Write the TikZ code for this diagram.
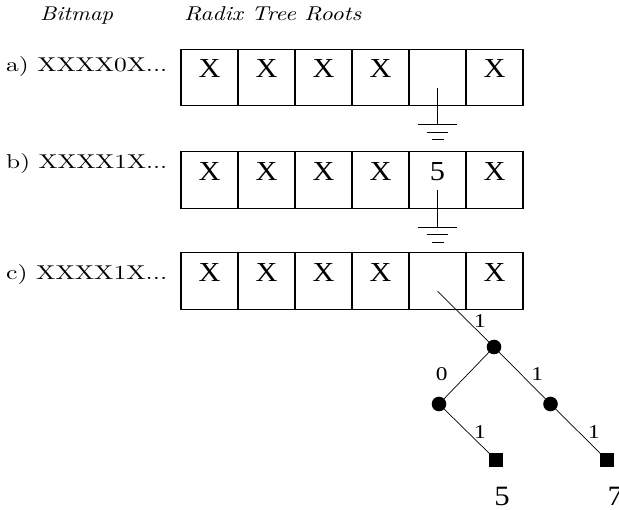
\documentclass[tikz,border=0pt]{standalone}
\usepackage{fontspec}
\usepackage{graphicx}
\newfontfamily\tms{Liberation Serif}
\tikzset{
  cell/.style={draw=black, line width=1.2pt, minimum width=57pt, minimum height=56.5pt, inner sep=0pt, outer sep=0pt},
  boxtxt/.style={anchor=base, inner sep=0pt, font=\tms\fontsize{27.5}{28}\selectfont},
  hdr/.style={anchor=base west, inner sep=0pt, font=\itshape},
  rowlbl/.style={anchor=base west, inner sep=0pt},
  gnd/.style={line width=0.8pt},
  tnode/.style={circle, fill=black, minimum size=14.6pt, inner sep=0pt, outer sep=0pt},
  leaf/.style={rectangle, fill=black, minimum size=13.7pt, inner sep=0pt, outer sep=0pt},
  tedge/.style={line width=0.7pt},
  elbl/.style={inner sep=0pt, font=\tms\fontsize{19.5}{20}\selectfont},
  vlbl/.style={anchor=base, inner sep=0pt, font=\tms\fontsize{28}{29}\selectfont},
}
\begin{document}
\begin{tikzpicture}[x=1pt,y=-1pt]
\useasboundingbox (0,0) rectangle (619,510);
% headers
\node[hdr] (h1) at (40,20.3) {\resizebox{73pt}{13.6pt}{Bitmap}};
\node[hdr] (h2) at (184,20.3) {\resizebox{177pt}{13.9pt}{Radix Tree Roots}};
% row labels
\node[rowlbl] (la) at (6,71.7) {\resizebox{161pt}{15pt}{a)~XXXX0X...}};
\node[rowlbl] (lb) at (6,168.3) {\resizebox{161pt}{15pt}{b)~XXXX1X...}};
\node[rowlbl] (lc) at (6,279.3) {\resizebox{161pt}{15pt}{c)~XXXX1X...}};
% rows of cells
\foreach \r/\y in {a/77.5,b/180,c/281}{
  \foreach \i in {1,...,6}{
    \node[cell] (\r\i) at ({152.5+57*\i},\y) {};
  }
}
\foreach \i/\t in {1/X,2/X,3/X,4/X,6/X}{
  \node[boxtxt] at ([yshift=-28.5pt]a\i.north) {\scalebox{1.1}[1]{\t}};
  \node[boxtxt] at ([yshift=-28.5pt]b\i.north) {\scalebox{1.1}[1]{\t}};
  \node[boxtxt] at ([yshift=-28.5pt]c\i.north) {\scalebox{1.1}[1]{\t}};
}
\node[boxtxt] (b5t) at ([yshift=-28.5pt]b5.north) {\scalebox{1.1}[1]{5}};
% grounds
\foreach \r in {a,b}{
  \coordinate (\r g0) at ([yshift=18pt]\r5.south);
  \coordinate (\r g1) at ([yshift=-19pt]\r5.south);
  \draw[gnd] (\r g0) -- (\r g1);
  \draw[gnd] ([xshift=-19.5pt]\r g1) -- ([xshift=19.5pt]\r g1);
  \draw[gnd] ([xshift=-10.5pt,yshift=-7.5pt]\r g1) -- ([xshift=10.5pt,yshift=-7.5pt]\r g1);
  \draw[gnd] ([xshift=-6pt,yshift=-15pt]\r g1) -- ([xshift=6pt,yshift=-15pt]\r g1);
}
% tree
\coordinate (cs) at ([yshift=18pt]c5.south);
\node[tnode] (t0) at (494,347) {};
\node[tnode] (tl) at (439,404) {};
\node[tnode] (tr) at (550.5,404) {};
\node[leaf] (fl) at (496,460) {};
\node[leaf] (fr) at (607,460) {};
\draw[tedge] (cs) -- (t0);
\draw[tedge] (t0) -- (tl);
\draw[tedge] (t0) -- (tr);
\draw[tedge] (tl) -- (fl);
\draw[tedge] (tr) -- (fr);
\node[elbl] (e1) at (480,321) {\scalebox{1.2}[1]{1}};
\node[elbl] (e2) at (441.7,374.5) {\scalebox{1.2}[1]{0}};
\node[elbl] (e3) at (537.3,374.5) {\scalebox{1.2}[1]{1}};
\node[elbl] (e4) at (480,431.7) {\scalebox{1.2}[1]{1}};
\node[elbl] (e5) at (594,431.7) {\scalebox{1.2}[1]{1}};
\node[vlbl] (v5) at (502,506) {\scalebox{1.1}[1]{5}};
\node[vlbl, anchor=base west] (v7) at (607.5,506) {\scalebox{1.1}[1]{7}};
\end{tikzpicture}
\end{document}
